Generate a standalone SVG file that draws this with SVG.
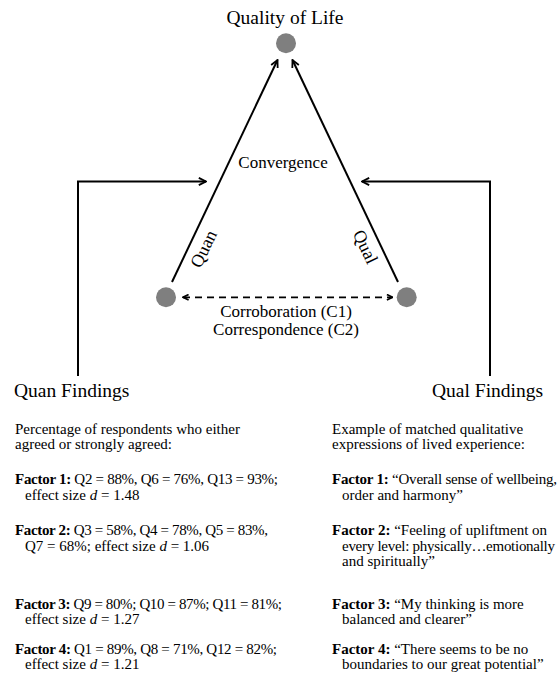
<svg xmlns="http://www.w3.org/2000/svg" width="559" height="678" viewBox="0 0 559 678">
<style>
text{font-family:"Liberation Serif","Times New Roman",serif;fill:#000}
.h{font-size:19.5px}
.m{font-size:17px}
.b{font-size:15px}
.bold{font-weight:bold}
.node{fill:#7f7f7f}
.ln{fill:none;stroke:#000;stroke-width:2}
.dash{fill:none;stroke:#000;stroke-width:1.8;stroke-dasharray:7 5}
</style>
<defs>
<marker id="arr" viewBox="0 0 10 10" refX="9" refY="5" markerWidth="9" markerHeight="9" markerUnits="userSpaceOnUse" orient="auto">
<path d="M1,1 L9,5 L1,9" fill="none" stroke="#000" stroke-width="2"/>
</marker>
<marker id="arrs" viewBox="0 0 10 10" refX="9" refY="5" markerWidth="7" markerHeight="7" markerUnits="userSpaceOnUse" orient="auto-start-reverse">
<path d="M1,1 L9,5 L1,9" fill="none" stroke="#000" stroke-width="2.4"/>
</marker>
</defs>
<g id="connectors">
<path class="ln" d="M172,282 L277.5,60" marker-end="url(#arr)"/>
<path class="ln" d="M398,282 L292.5,60" marker-end="url(#arr)"/>
<path class="ln" d="M78,376 L78,181.5 L206,181.5" marker-end="url(#arr)"/>
<path class="ln" d="M490,376 L490,181.5 L362,181.5" marker-end="url(#arr)"/>
<path class="dash" d="M183,297.3 L392.5,297.3" marker-start="url(#arrs)" marker-end="url(#arrs)"/>
<text class="m" style="font-size:18px" text-anchor="middle" transform="translate(204,249) rotate(-64.6)" y="5.5">Quan</text>
<text class="m" style="font-size:18px" text-anchor="middle" transform="translate(365,247) rotate(64.6)" y="5.5">Qual</text>
<text class="m" x="283" y="168" text-anchor="middle">Convergence</text>
<text class="m" x="286" y="317" text-anchor="middle">Corroboration (C1)</text>
<text class="m" x="286" y="334.5" text-anchor="middle">Correspondence (C2)</text>
</g>
<g id="quality-of-life">
<circle class="node" cx="286" cy="43.3" r="10"/>
<text class="h" x="285" y="24" text-anchor="middle">Quality of Life</text>
</g>
<g id="quan-node">
<circle class="node" cx="166" cy="297.3" r="10"/>
</g>
<g id="qual-node">
<circle class="node" cx="406.7" cy="297.3" r="10"/>
</g>
<g id="quan-findings">
<text class="h" x="14" y="397">Quan Findings</text>
<text class="b" x="15" y="434">Percentage of respondents who either</text>
<text class="b" x="15" y="449">agreed or strongly agreed:</text>
<text class="b" x="15" y="484" textLength="263"><tspan class="bold">Factor 1:</tspan> Q2 = 88%, Q6 = 76%, Q13 = 93%;</text>
<text class="b" x="25" y="500">effect size <tspan font-style="italic">d</tspan> = 1.48</text>
<text class="b" x="15" y="535" textLength="253"><tspan class="bold">Factor 2:</tspan> Q3 = 58%, Q4 = 78%, Q5 = 83%,</text>
<text class="b" x="25" y="551">Q7 = 68%; effect size <tspan font-style="italic">d</tspan> = 1.06</text>
<text class="b" x="15" y="609" textLength="267"><tspan class="bold">Factor 3:</tspan> Q9 = 80%; Q10 = 87%; Q11 = 81%;</text>
<text class="b" x="25" y="624">effect size <tspan font-style="italic">d</tspan> = 1.27</text>
<text class="b" x="15" y="654" textLength="262"><tspan class="bold">Factor 4:</tspan> Q1 = 89%, Q8 = 71%, Q12 = 82%;</text>
<text class="b" x="25" y="669">effect size <tspan font-style="italic">d</tspan> = 1.21</text>
</g>
<g id="qual-findings">
<text class="h" x="432" y="397">Qual Findings</text>
<text class="b" x="332" y="434">Example of matched qualitative</text>
<text class="b" x="332" y="449">expressions of lived experience:</text>
<text class="b" x="332" y="484" textLength="225"><tspan class="bold">Factor 1:</tspan> “Overall sense of wellbeing,</text>
<text class="b" x="342" y="500">order and harmony”</text>
<text class="b" x="332" y="535"><tspan class="bold">Factor 2:</tspan> “Feeling of upliftment on</text>
<text class="b" x="342" y="551" textLength="213">every level: physically…emotionally</text>
<text class="b" x="342" y="566">and spiritually”</text>
<text class="b" x="332" y="609"><tspan class="bold">Factor 3:</tspan> “My thinking is more</text>
<text class="b" x="342" y="624">balanced and clearer”</text>
<text class="b" x="332" y="654"><tspan class="bold">Factor 4:</tspan> “There seems to be no</text>
<text class="b" x="342" y="669">boundaries to our great potential”</text>
</g>
</svg>
